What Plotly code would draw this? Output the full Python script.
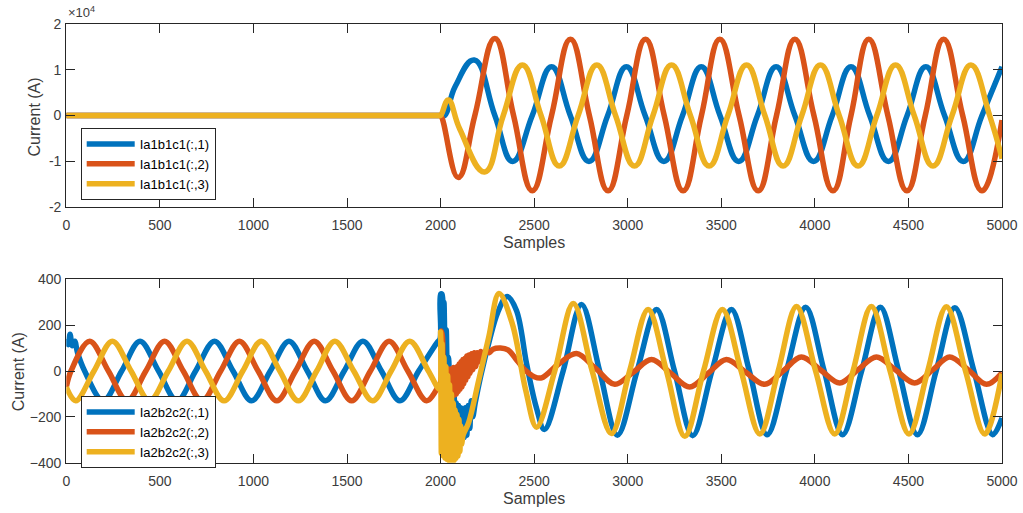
import plotly.graph_objects as go

# ---------------- data ----------------
# Top panel: Ia1b1c1 (A)
TOP_X_1 = [0, 1990, 2000, 2022, 2078, 2180, 2290, 2385, 2490, 2593, 2693, 2793, 2893, 2993, 3093, 3193, 3293,
           3393, 3493, 3593, 3693, 3793, 3893, 3993, 4093, 4193, 4293, 4393, 4493, 4593, 4693, 4793, 4893, 5000]
TOP_Y_1 = [0, 0, 0, 0, 6300, 12100, 0, -10000, 0, 10600, 0, -10000, 0, 10600, 0, -10000, 0,
           10600, 0, -10000, 0, 10600, 0, -10000, 0, 10600, 0, -10000, 0, 10600, 0, -10000, 0, 10600]

TOP_X_2 = [0, 1990, 2000, 2094, 2183, 2290, 2390, 2490, 2593, 2694, 2795, 2895, 2995, 3095, 3195, 3296, 3394,
           3492, 3595, 3697, 3795, 3893, 3995, 4097, 4193, 4288, 4390, 4492, 4590, 4688, 4790, 4893, 5000]
TOP_Y_2 = [0, 0, 0, -13500, 0, 16800, 0, -16400, 0, 16600, 0, -16400, 0, 16600, 0, -16400, 0,
           16600, 0, -16400, 0, 16600, 0, -16400, 0, 16600, 0, -16400, 0, 16600, 0, -16400, -1000]

TOP_X_3 = [0, 1990, 2000, 2041, 2103, 2235, 2335, 2437, 2537, 2634, 2735, 2835, 2935, 3036, 3135, 3234, 3335,
           3435, 3535, 3635, 3733, 3830, 3930, 4030, 4130, 4231, 4331, 4431, 4531, 4631, 4733, 4834, 4934, 5000]
TOP_Y_3 = [0, 0, 0, 3400, -3000, -12300, 0, 11000, 0, -11000, 0, 11000, 0, -11000, 0, 11000, 0,
           -11000, 0, 11000, 0, -11000, 0, 11000, 0, -11000, 0, 11000, 0, -11000, 0, 11000, 0, -9400]

# Bottom panel: Ia2b2c2 (A) -- before the fault, the noisy transient, and after it
BOT_X_1_PRE = [0, 10, 20, 32, 45, 60, 98, 197, 296, 394, 493, 592, 691, 792, 891, 990,
               1090, 1190, 1288, 1385, 1485, 1585, 1684, 1783, 1883, 1982]
BOT_Y_1_PRE = [140, 115, 160, 110, 130, 80, 0, -130, 0, 130, 0, -130, 0, 130, 0, -130,
               0, 130, 0, -130, 0, 130, 0, -130, 0, 125]
BOT_X_1_TR = [1997, 2000, 2008, 2013, 2018, 2024, 2030, 2036, 2042, 2050, 2058, 2066, 2072, 2078,
              2084, 2090, 2096, 2102, 2108, 2114, 2120, 2126, 2132, 2140, 2148, 2156, 2164, 2172]
BOT_Y_1_TR = [140, 335, 335, 200, 300, 120, 180, 40, 60, -60, -40, -150, -110, -230,
              -140, -280, -150, -300, -160, -300, -170, -290, -160, -280, -150, -250, -130, -200]
BOT_X_1_POST = [2185, 2215, 2260, 2305, 2355, 2405, 2460, 2512, 2555, 2655,
                2753, 2850, 2945, 3050, 3154, 3250, 3347, 3450, 3554, 3650,
                3745, 3848, 3951, 4050, 4148, 4250, 4350, 4448, 4548, 4648,
                4748, 4850, 4950, 5000]
BOT_Y_1_POST = [-140, -20, 130, 255, 325, 265, 30, -160, -255, 0,
                290, 0, -280, 0, 268, 0, -282, 0, 268, 0,
                -278, 0, 278, 0, -278, 0, 278, 0, -278, 0,
                276, 0, -278, -205]

BOT_X_2_PRE = [0, 25, 125, 225, 325, 425, 525, 625, 725, 825, 925, 1025, 1125, 1225, 1325,
               1425, 1525, 1625, 1725, 1825, 1925, 1990]
BOT_Y_2_PRE = [-70, 0, 130, 0, -130, 0, 130, 0, -130, 0, 130, 0, -130, 0, 130,
               0, -130, 0, 130, 0, -130, -65]
BOT_X_2_TR = [2000, 2004, 2010, 2014, 2019, 2024, 2029, 2034, 2039, 2044,
              2049, 2054, 2059, 2064, 2069, 2074, 2079, 2084, 2089, 2094,
              2099, 2104, 2109, 2114, 2119, 2124, 2129, 2134, 2140, 2146,
              2152, 2158, 2165, 2172, 2180, 2188, 2196, 2205, 2215, 2225,
              2240, 2260]
BOT_Y_2_TR = [-50, 175, 150, -20, 10, -105, 15, -110, 10, -105,
              5, -110, 10, -100, 15, -105, 10, -100, 20, -90,
              30, -80, 40, -70, 50, -55, 55, -40, 65, -25,
              70, -10, 75, 5, 80, 20, 80, 40, 85, 55,
              88, 80]
BOT_X_2_POST = [2280, 2320, 2360, 2400, 2450, 2500, 2540, 2630, 2726, 2830,
                2931, 3030, 3127, 3230, 3331, 3430, 3527, 3630, 3732, 3830,
                3928, 4030, 4133, 4230, 4329, 4430, 4533, 4630, 4720, 4820,
                4917, 5000]
BOT_Y_2_POST = [95, 100, 92, 55, 5, -25, -30, 30, 76, 10,
                -58, -5, 50, -10, -70, -10, 50, -5, -58, 0,
                61, 5, -52, 5, 61, 5, -52, 5, 61, 5,
                -58, -8]

BOT_X_3_PRE = [0, 50, 148, 246, 346, 445, 545, 645, 744, 843, 943, 1042, 1141, 1240, 1338,
               1435, 1536, 1637, 1736, 1835, 1935, 1996]
BOT_Y_3_PRE = [-70, -130, 0, 130, 0, -130, 0, 130, 0, -130, 0, 130, 0, -130, 0,
               130, 0, -130, 0, 130, 0, -80]
BOT_X_3_TR = [2000, 2004, 2008, 2013, 2018, 2023, 2028, 2033, 2038, 2043,
              2048, 2053, 2058, 2063, 2068, 2073, 2078, 2083, 2088, 2093,
              2098, 2103, 2108, 2113, 2120]
BOT_Y_3_TR = [170, -360, 120, -370, 60, -380, 20, -385, -20, -390,
              -60, -400, -100, -430, -140, -390, -170, -380, -190, -370,
              -210, -350, -240, -320, -280]
BOT_X_3_POST = [2150, 2204, 2258, 2312, 2383, 2455, 2513, 2610, 2709, 2810,
                2913, 3010, 3109, 3207, 3305, 3405, 3506, 3606, 3706, 3804,
                3902, 4004, 4106, 4204, 4302, 4402, 4503, 4603, 4703, 4805,
                4908, 5000]
BOT_Y_3_POST = [-225, -40, 150, 338, 207, -84, -245, 0, 294, 0,
                -273, 0, 268, 0, -285, 0, 268, 0, -275, 0,
                281, 0, -275, 0, 281, 0, -275, 0, 280, 0,
                -275, -12]

BOT_X_1 = BOT_X_1_PRE + BOT_X_1_TR + BOT_X_1_POST
BOT_Y_1 = BOT_Y_1_PRE + BOT_Y_1_TR + BOT_Y_1_POST
BOT_X_2 = BOT_X_2_PRE + BOT_X_2_TR + BOT_X_2_POST
BOT_Y_2 = BOT_Y_2_PRE + BOT_Y_2_TR + BOT_Y_2_POST
BOT_X_3 = BOT_X_3_PRE + BOT_X_3_TR + BOT_X_3_POST
BOT_Y_3 = BOT_Y_3_PRE + BOT_Y_3_TR + BOT_Y_3_POST

TOP_NAMES = ["Ia1b1c1(:,1)", "Ia1b1c1(:,2)", "Ia1b1c1(:,3)"]
BOT_NAMES = ["Ia2b2c2(:,1)", "Ia2b2c2(:,2)", "Ia2b2c2(:,3)"]
COLORS = ["#0072BD", "#D95319", "#EDB120"]

X_TICKS = [0, 500, 1000, 1500, 2000, 2500, 3000, 3500, 4000, 4500, 5000]
TOP_Y_TICKS = [-20000, -10000, 0, 10000, 20000]
TOP_Y_TICKTEXT = ["-2", "-1", "0", "1", "2"]
BOT_Y_TICKS = [-400, -200, 0, 200, 400]

W, H = 1023, 513
AX = "#262626"
TXT = "#3c3c3c"
FONT = "Liberation Sans, Arial"

fig = go.Figure()
top_series = [(TOP_X_1, TOP_Y_1), (TOP_X_2, TOP_Y_2), (TOP_X_3, TOP_Y_3)]
bot_series = [(BOT_X_1, BOT_Y_1), (BOT_X_2, BOT_Y_2), (BOT_X_3, BOT_Y_3)]
for (xs, ys), name, c in zip(top_series, TOP_NAMES, COLORS):
    fig.add_trace(go.Scatter(x=xs, y=ys, name=name, mode="lines",
                             line=dict(color=c, width=5.5, shape="spline", smoothing=1.3),
                             xaxis="x", yaxis="y", legend="legend"))
for (xs, ys), name, c in zip(bot_series, BOT_NAMES, COLORS):
    fig.add_trace(go.Scatter(x=xs, y=ys, name=name, mode="lines",
                             line=dict(color=c, width=5.5, shape="spline", smoothing=1.0),
                             xaxis="x2", yaxis="y2", legend="legend2"))

xdom = [66.3 / W, 1002 / W]
top_dom = [1 - 207.3 / H, 1 - 23.7 / H]
bot_dom = [1 - 462.7 / H, 1 - 279.3 / H]

axis_common = dict(showline=True, linecolor=AX, linewidth=1.2, mirror="ticks",
                   ticks="inside", ticklen=9, tickwidth=1.2, tickcolor=AX,
                   showgrid=False, zeroline=False, automargin=False,
                   tickfont=dict(family=FONT, size=14, color=TXT))

legend_common = dict(xanchor="left", yanchor="top", bgcolor="white", bordercolor=AX,
                     borderwidth=1, font=dict(family=FONT, size=13, color="black"),
                     tracegroupgap=0, itemwidth=48)

fig.update_layout(
    width=W, height=H,
    margin=dict(l=0, r=0, t=0, b=0, pad=0, autoexpand=False),
    paper_bgcolor="white", plot_bgcolor="white",
    showlegend=True,
    xaxis=dict(domain=xdom, range=[0, 5000], tickvals=X_TICKS, anchor="y",
               ticklabelstandoff=5, **axis_common),
    yaxis=dict(domain=top_dom, range=[-20000, 20000], tickvals=TOP_Y_TICKS,
               ticktext=TOP_Y_TICKTEXT, anchor="x", ticklabelstandoff=1, **axis_common),
    xaxis2=dict(domain=xdom, range=[0, 5000], tickvals=X_TICKS, anchor="y2",
                ticklabelstandoff=5, **axis_common),
    yaxis2=dict(domain=bot_dom, range=[-400, 400], tickvals=BOT_Y_TICKS,
                anchor="x2", ticklabelstandoff=1, **axis_common),
    legend=dict(x=80.7 / W, y=1 - 128 / H, **legend_common),
    legend2=dict(x=80.7 / W, y=1 - 396 / H, **legend_common),
)

title_font = dict(family=FONT, size=16, color=TXT)
fig.add_annotation(text="Current (A)", xref="paper", yref="paper", x=33.5 / W, y=1 - 117 / H,
                   textangle=-90, showarrow=False, font=title_font, xanchor="center", yanchor="middle")
fig.add_annotation(text="Current (A)", xref="paper", yref="paper", x=18.5 / W, y=1 - 371.7 / H,
                   textangle=-90, showarrow=False, font=title_font, xanchor="center", yanchor="middle")
fig.add_annotation(text="Samples", xref="paper", yref="paper", x=534 / W, y=1 - 242.5 / H,
                   showarrow=False, font=title_font, xanchor="center", yanchor="middle")
fig.add_annotation(text="Samples", xref="paper", yref="paper", x=534 / W, y=1 - 498 / H,
                   showarrow=False, font=title_font, xanchor="center", yanchor="middle")
fig.add_annotation(text="×10<sup>4</sup>", xref="paper", yref="paper", x=66 / W, y=1 - 22 / H,
                   showarrow=False, font=dict(family=FONT, size=13, color=TXT),
                   xanchor="left", yanchor="bottom")

fig.write_html("out.html")
